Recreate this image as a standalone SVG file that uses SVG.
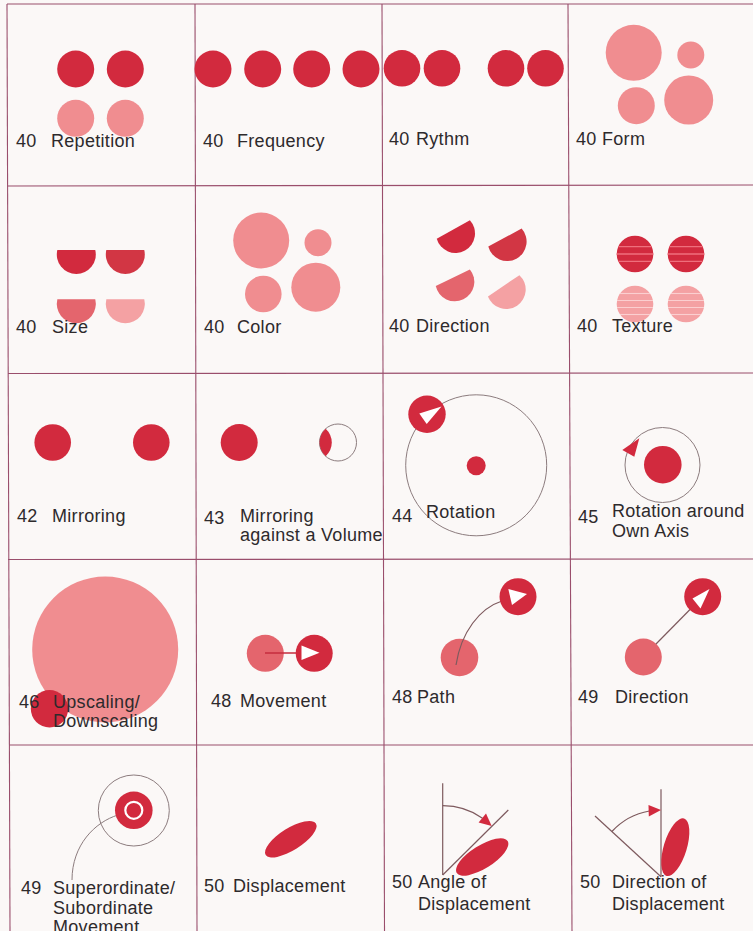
<svg xmlns="http://www.w3.org/2000/svg" width="753" height="931" viewBox="0 0 753 931">
<style>
.bg{fill:#fbf8f7}
.grid line{stroke:#9a4e6c;stroke-width:1.1}
.lbl{font-family:"Liberation Sans",Arial,sans-serif;font-size:18px;fill:#2e2a2c;letter-spacing:0.3px}
.d{fill:#d22a3e}
.d2{fill:#d23644}
.l{fill:#f08d90}
.m{fill:#e4656d}
.p{fill:#f4a1a3}
.w{fill:#ffffff}
.ol{fill:none;stroke:#8c7c7e;stroke-width:1}
.ln{fill:none;stroke:#7e5a5e;stroke-width:1.2}
.sd{stroke:#ef6f7c;stroke-width:1.3}
.sl{stroke:#fbcfd0;stroke-width:1.1}
</style>
<defs>
<path id="seg" d="M -18.97 -4.5 A 19.5 19.5 0 1 0 18.97 -4.5 Z"/>
</defs>
<rect class="bg" x="0" y="0" width="753" height="931"/>
<g id="grid" class="grid">
<line x1="7" y1="4" x2="10" y2="931"/>
<line x1="195" y1="4" x2="197" y2="931"/>
<line x1="382" y1="4" x2="384.5" y2="931"/>
<line x1="568" y1="4" x2="572" y2="931"/>
<line x1="7" y1="4" x2="753" y2="4"/>
<line x1="7" y1="186" x2="753" y2="185"/>
<line x1="8" y1="373.5" x2="753" y2="373"/>
<line x1="8" y1="559.5" x2="753" y2="559"/>
<line x1="9" y1="745" x2="753" y2="745"/>
</g>

<g id="cell-repetition">
<circle class="d" cx="75.7" cy="69" r="18.5"/>
<circle class="d" cx="125.3" cy="69" r="18.5"/>
<circle class="l" cx="75.7" cy="118.3" r="18.5"/>
<circle class="l" cx="125.3" cy="118.3" r="18.5"/>
<text class="lbl" x="16" y="147">40</text><text class="lbl" x="51" y="147">Repetition</text>
</g>

<g id="cell-frequency">
<circle class="d" cx="213" cy="69" r="18.5"/>
<circle class="d" cx="262.7" cy="69" r="18.5"/>
<circle class="d" cx="311.7" cy="69" r="18.5"/>
<circle class="d" cx="361" cy="69" r="18.5"/>
<text class="lbl" x="203" y="147">40</text><text class="lbl" x="237" y="147">Frequency</text>
</g>

<g id="cell-rythm">
<circle class="d" cx="402" cy="68.3" r="18.3"/>
<circle class="d" cx="442" cy="68.3" r="18.3"/>
<circle class="d" cx="506" cy="68.3" r="18.3"/>
<circle class="d" cx="545.5" cy="68.3" r="18.3"/>
<text class="lbl" x="389" y="145">40</text><text class="lbl" x="416" y="145">Rythm</text>
</g>

<g id="cell-form">
<circle class="l" cx="633.7" cy="52.8" r="28"/>
<circle class="l" cx="690.8" cy="55" r="13.5"/>
<circle class="l" cx="636.3" cy="105.7" r="18.5"/>
<circle class="l" cx="688.7" cy="100" r="24.5"/>
<text class="lbl" x="576" y="145">40</text><text class="lbl" x="602" y="145">Form</text>
</g>

<g id="cell-size">
<use href="#seg" class="d" transform="translate(76.3,254.5)"/>
<use href="#seg" class="d2" transform="translate(125.3,254.5)"/>
<use href="#seg" class="m" transform="translate(76.3,303.8)"/>
<use href="#seg" class="p" transform="translate(125.3,303.8)"/>
<text class="lbl" x="16" y="333">40</text><text class="lbl" x="52" y="333">Size</text>
</g>

<g id="cell-color">
<circle class="l" cx="261.2" cy="240.5" r="28"/>
<circle class="l" cx="318" cy="242.8" r="13.5"/>
<circle class="l" cx="263.3" cy="294" r="18.3"/>
<circle class="l" cx="315.8" cy="287.2" r="24.5"/>
<text class="lbl" x="204" y="333">40</text><text class="lbl" x="237" y="333">Color</text>
</g>

<g id="cell-direction-1">
<use href="#seg" class="d" transform="translate(455.5,233.4) rotate(-29)"/>
<use href="#seg" class="d2" transform="translate(507.1,241.5) rotate(-28.5)"/>
<use href="#seg" class="m" transform="translate(454.8,281.8) rotate(-26)"/>
<use href="#seg" class="p" transform="translate(506.2,289.5) rotate(-34)"/>
<text class="lbl" x="389" y="332">40</text><text class="lbl" x="416" y="332">Direction</text>
</g>

<g id="cell-texture">
<circle class="d" cx="635" cy="254" r="18.3"/>
<circle class="d" cx="686" cy="254" r="18.3"/>
<circle class="p" cx="635" cy="304" r="18.3"/>
<circle class="p" cx="686" cy="304" r="18.3"/>
<g class="sd">
<line x1="618.2" y1="246.7" x2="651.8" y2="246.7"/><line x1="616.7" y1="254" x2="653.3" y2="254"/><line x1="618.2" y1="261.3" x2="651.8" y2="261.3"/>
<line x1="669.2" y1="246.7" x2="702.8" y2="246.7"/><line x1="667.7" y1="254" x2="704.3" y2="254"/><line x1="669.2" y1="261.3" x2="702.8" y2="261.3"/>
</g>
<g class="sl">
<line x1="620" y1="293.5" x2="650" y2="293.5"/><line x1="617" y1="300.5" x2="653" y2="300.5"/><line x1="617" y1="307.5" x2="653" y2="307.5"/><line x1="620" y1="314.5" x2="650" y2="314.5"/>
<line x1="671" y1="293.5" x2="701" y2="293.5"/><line x1="668" y1="300.5" x2="704" y2="300.5"/><line x1="668" y1="307.5" x2="704" y2="307.5"/><line x1="671" y1="314.5" x2="701" y2="314.5"/>
</g>
<text class="lbl" x="577" y="332">40</text><text class="lbl" x="612" y="332">Texture</text>
</g>

<g id="cell-mirroring">
<circle class="d" cx="52.7" cy="442.5" r="18.3"/>
<circle class="d" cx="151.3" cy="442.5" r="18.3"/>
<text class="lbl" x="17" y="522">42</text><text class="lbl" x="52" y="522">Mirroring</text>
</g>

<g id="cell-mirroring-volume">
<circle class="d" cx="239.2" cy="442.5" r="18.5"/>
<circle class="ol" cx="338" cy="442.5" r="18.5"/>
<path class="d" d="M 325.65 428.74 A 18.5 18.5 0 0 0 325.65 456.26 A 18.5 18.5 0 0 0 325.65 428.74 Z"/>
<text class="lbl" x="204" y="524">43</text><text class="lbl" x="240" y="522">Mirroring</text>
<text class="lbl" x="240" y="541">against a Volume</text>
</g>

<g id="cell-rotation">
<circle class="ol" cx="476.2" cy="465.3" r="70.5"/>
<circle class="d" cx="476.2" cy="465.8" r="9.5"/>
<circle class="d" cx="427" cy="414.2" r="18.7"/>
<polygon class="w" points="441.5,406.5 419.3,413.5 426.7,424"/>
<text class="lbl" x="392" y="522">44</text><text class="lbl" x="426" y="518">Rotation</text>
</g>

<g id="cell-rotation-own-axis">
<circle class="ol" cx="662.5" cy="465" r="37.5"/>
<circle class="d" cx="662.8" cy="464.7" r="18.8"/>
<polygon class="d" points="622.3,450 639.3,438.3 634.3,456.7"/>
<text class="lbl" x="578" y="523">45</text><text class="lbl" x="612" y="517">Rotation around</text>
<text class="lbl" x="612" y="537">Own Axis</text>
</g>

<g id="cell-upscaling">
<circle class="l" cx="105.2" cy="649.5" r="73"/>
<circle class="d" cx="49.5" cy="708.8" r="18.7"/>
<text class="lbl" x="19" y="708">46</text><text class="lbl" x="53" y="708">Upscaling/</text>
<text class="lbl" x="53" y="727">Downscaling</text>
</g>

<g id="cell-movement">
<circle class="m" cx="265.3" cy="653.3" r="18.5"/>
<line x1="265" y1="653" x2="297" y2="653" stroke="#c62c3e" stroke-width="1.5"/>
<circle class="d" cx="314.2" cy="653.3" r="18.5"/>
<polygon class="w" points="301.5,645.5 301.5,660 319.5,652.8"/>
<text class="lbl" x="211" y="707">48</text><text class="lbl" x="240" y="707">Movement</text>
</g>

<g id="cell-path">
<circle class="m" cx="459.5" cy="657.5" r="18.8"/>
<path class="ln" d="M 456 665 C 461 632, 480 608, 502 601"/>
<circle class="d" cx="518" cy="596.7" r="18.5"/>
<polygon class="w" points="508.3,589 512,605 527,594"/>
<text class="lbl" x="392" y="703">48</text><text class="lbl" x="417" y="703">Path</text>
</g>

<g id="cell-direction-2">
<circle class="m" cx="643.3" cy="657" r="18.5"/>
<line class="ln" x1="656" y1="644" x2="690" y2="609.5"/>
<circle class="d" cx="702.7" cy="596.7" r="18.5"/>
<polygon class="w" points="709.5,589 692.5,598.5 700.5,608.5"/>
<text class="lbl" x="578" y="703">49</text><text class="lbl" x="615" y="703">Direction</text>
</g>

<g id="cell-superordinate">
<circle class="ol" cx="133.8" cy="810.5" r="35.5"/>
<path class="ol" d="M 118 815 C 95 822, 72 845, 72 880"/>
<circle class="d" cx="133.8" cy="810.3" r="18.8"/>
<circle cx="133.8" cy="810.3" r="8.5" fill="none" stroke="#ffffff" stroke-width="2.2"/>
<text class="lbl" x="21" y="894">49</text><text class="lbl" x="53" y="894">Superordinate/</text>
<text class="lbl" x="53" y="914">Subordinate</text>
<text class="lbl" x="53" y="933">Movement</text>
</g>

<g id="cell-displacement">
<ellipse class="d" cx="290.8" cy="839.2" rx="29.6" ry="11" transform="rotate(-32 290.8 839.2)"/>
<text class="lbl" x="204" y="892">50</text><text class="lbl" x="233" y="892">Displacement</text>
</g>

<g id="cell-angle-displacement">
<line class="ln" x1="442.7" y1="783.3" x2="442.7" y2="875"/>
<line class="ln" x1="442.7" y1="875" x2="508.3" y2="810"/>
<path class="ln" d="M 442.7 805.7 A 69.3 69.3 0 0 1 482.5 818.2"/>
<polygon class="d" points="491.7,826 486,813.6 478.6,822.4"/>
<ellipse class="d" cx="482.2" cy="857" rx="30" ry="11.5" transform="rotate(-32 482.2 857)"/>
<text class="lbl" x="392" y="888">50</text><text class="lbl" x="418" y="888">Angle of</text>
<text class="lbl" x="418" y="910">Displacement</text>
</g>

<g id="cell-direction-displacement">
<line class="ln" x1="661" y1="789.3" x2="661" y2="876.7"/>
<line class="ln" x1="595" y1="816" x2="661" y2="876.7"/>
<path class="ln" d="M 611.9 831.5 A 66.7 66.7 0 0 1 649.4 811"/>
<polygon class="d" points="661,810 648.5,805 648.8,816.5"/>
<ellipse class="d" cx="675.3" cy="847.2" rx="30" ry="11.5" transform="rotate(-73 675.3 847.2)"/>
<text class="lbl" x="580" y="888">50</text><text class="lbl" x="612" y="888">Direction of</text>
<text class="lbl" x="612" y="910">Displacement</text>
</g>
</svg>
